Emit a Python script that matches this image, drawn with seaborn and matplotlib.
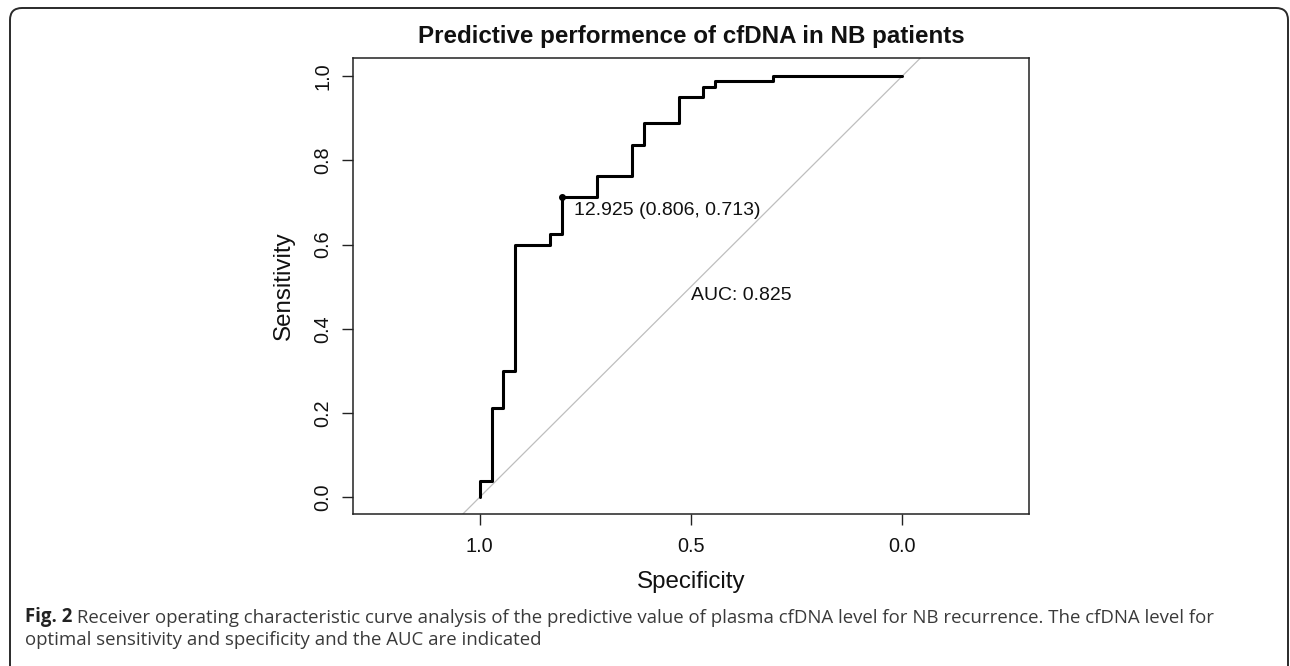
import seaborn as sns
import matplotlib.pyplot as plt
import pandas as pd
from matplotlib.patches import FancyBboxPatch
from matplotlib.transforms import IdentityTransform

# ROC corner points (specificity decreasing)
specificity = [1.0, 0.972, 0.944, 0.917, 0.833, 0.806, 0.722, 0.639, 0.611, 0.528, 0.472, 0.444, 0.306, 0.0]
sensitivity = [0.0, 0.0375, 0.2125, 0.300, 0.600, 0.625, 0.7125, 0.7625, 0.8375, 0.8875, 0.950, 0.975, 0.9875, 1.0]

# optimal cut-off and AUC
best_spec, best_sens = 0.806, 0.713
best_thres = 12.925
auc = 0.825

x_ticks = [1.0, 0.5, 0.0]
x_labels = ["1.0", "0.5", "0.0"]
y_ticks = [0.0, 0.2, 0.4, 0.6, 0.8, 1.0]
y_labels = ["0.0", "0.2", "0.4", "0.6", "0.8", "1.0"]

title = "Predictive performence of cfDNA in NB patients"
caption_bold = "Fig. 2"
caption_1 = (" Receiver operating characteristic curve analysis of the predictive value "
             "of plasma cfDNA level for NB recurrence. The cfDNA level for")
caption_2 = "optimal sensitivity and specificity and the AUC are indicated"

df = pd.DataFrame({"Specificity": specificity, "Sensitivity": sensitivity})

sns.set_theme(style="ticks")
plt.rcParams["font.family"] = ["Liberation Sans", "DejaVu Sans"]

W, H = 1290, 666
fig = plt.figure(figsize=(W / 100, H / 100), dpi=100)
ax = fig.add_axes([353 / W, 1 - 514 / H, 676 / W, 456 / H])

# chance diagonal
ax.axline((1, 0), (0, 1), color="#bebebe", lw=0.9, zorder=1)

# ROC curve
sns.lineplot(data=df, x="Specificity", y="Sensitivity", sort=False, estimator=None,
             drawstyle="steps-pre", color="black", lw=2.2, ax=ax, zorder=3)
ax.plot(best_spec, best_sens, "o", color="black", ms=4, zorder=4)
ax.text(best_spec - 0.028, best_sens - 0.013,
        f"{best_thres} ({best_spec}, {best_sens})",
        ha="left", va="top", fontsize=14, color="#111111")
ax.text(0.5, 0.5, f"AUC: {auc}", ha="left", va="top", fontsize=14, color="#111111")

ax.set_xlim(1.30, -0.30)
ax.set_ylim(-0.04, 1.043)
ax.set_xticks(x_ticks, labels=x_labels)
ax.set_yticks(y_ticks, labels=y_labels, rotation=90, va="center")
ax.tick_params(length=7.9, width=1.0, labelsize=14.3, color="#222222", labelcolor="#111111")
ax.tick_params(axis="x", pad=8.4)
ax.tick_params(axis="y", pad=7.0)
for s in ax.spines.values():
    s.set_linewidth(1.1)
    s.set_color("#222222")

ax.set_xlabel("Specificity", fontsize=17.4, color="#111111")
ax.set_ylabel("Sensitivity", fontsize=17.4, color="#111111")
ax.xaxis.label.set_va("center")
ax.yaxis.label.set_va("center")
ax.xaxis.set_label_coords(0.5, -0.149)
ax.yaxis.set_label_coords(-0.102, 0.5)

fig.text(691 / W, 1 - 43 / H, title, ha="center", va="baseline",
         fontsize=17.4, fontweight="bold", color="#111111")

# caption
cap_font = ["Open Sans", "DejaVu Sans"]
bold = fig.text(25 / W, 1 - 627 / H, caption_bold, family=cap_font, fontweight="bold",
                fontsize=13.4, va="bottom", color="#222222")
ax.annotate(caption_1, xy=(1, 0), xycoords=bold, va="bottom", ha="left",
            family=cap_font, fontsize=13.4, color="#3a3a3a", annotation_clip=False)
fig.text(25 / W, 1 - 649 / H, caption_2, family=cap_font, fontsize=13.4,
         va="bottom", color="#3a3a3a")

# rounded frame around the figure
frame = FancyBboxPatch((10, -30), 1278, H - 8 + 30, boxstyle="round,pad=0,rounding_size=12",
                       transform=IdentityTransform(), fill=False, lw=1.4, edgecolor="#2a2a2a")
fig.add_artist(frame)

fig.savefig("out.png", dpi=100)
plt.close()
